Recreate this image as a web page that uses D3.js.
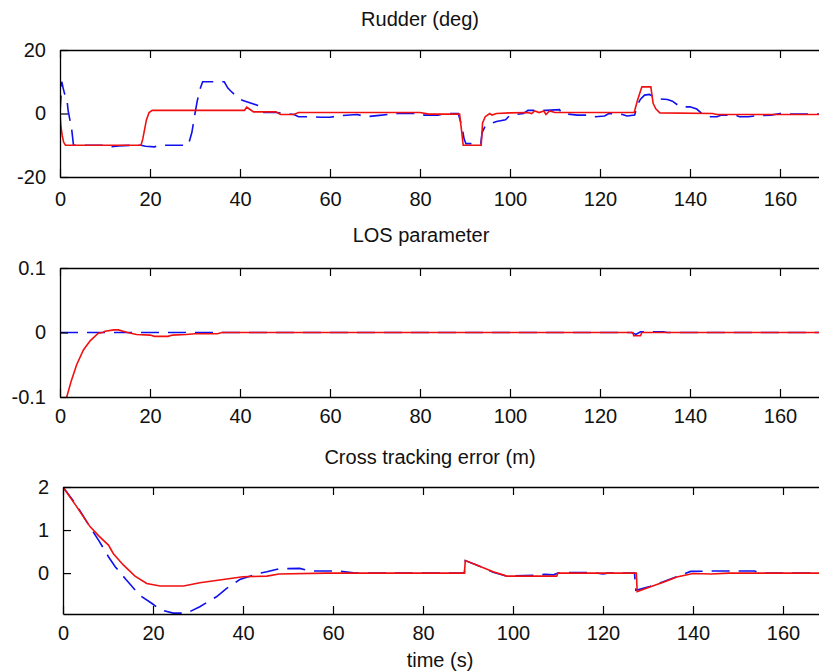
<!DOCTYPE html>
<html>
<head>
<meta charset="utf-8">
<script src="https://cdn.jsdelivr.net/npm/d3@7"></script>
<style>
  html, body { margin: 0; padding: 0; background: #fff; overflow: hidden; }
  svg { display: block; }
  text { font-family: "Liberation Sans", Arial, Helvetica, sans-serif; fill: #111; }
</style>
</head>
<body>
<svg id="chart" width="819" height="672"></svg>
<script>
// time axis (180 falls outside the visible window)
const xTicks = [0, 20, 40, 60, 80, 100, 120, 140, 160];

// Rudder (deg): [t, value]
const rudderBlue = [[0,0],[0.2,5],[0.4,10],[0.7,8],[1.0,6.3],[1.5,5],[1.8,1],[2.2,-2],[2.6,-5],[3.0,-10],[10,-10],[11,-10.5],[13,-10.2],[16,-10],[18,-10],[19,-10.3],[21,-10.5],[22,-10],[26,-10],[28.5,-10],[29.3,-6],[30,0],[30.5,4],[31.2,8],[31.7,10],[36.5,10],[37.3,8],[38,7],[39.5,5],[40.5,4.2],[42,3.5],[43,3],[44,2.5],[45,2],[45.3,0.3],[48,0.3],[52,-0.3],[53,-1],[56,-1],[58,-1.2],[60,-1.2],[62,-0.7],[66,-0.3],[68,-1],[71,-0.6],[73,-0.3],[75,0],[80,0],[81,-0.5],[84,-0.5],[86,0],[88.5,0],[89.3,-4],[89.8,-8],[90.2,-9.5],[93.5,-9.5],[93.8,-6],[94.5,-4],[95.5,-3.3],[97,-2.5],[99,-2],[100,-0.5],[103,0],[104,1],[108,1],[111,1.2],[111.5,0],[115,-0.5],[118,-0.5],[119,-1],[121,-0.8],[122,0],[125,-0.3],[126,-0.8],[127.7,-0.5],[128.4,3],[129,4.5],[129.9,5.8],[131,6],[132,5.2],[133,4.6],[135,4.4],[136.1,3.9],[137.8,2.1],[140,2.1],[141.5,1.4],[143,-0.5],[144.5,-1],[146,-1],[147,-0.5],[150,-0.5],[151,-1],[153,-1],[155,-0.7],[158,-0.5],[160,0],[162,-0.2],[180,-0.2]];
const rudderRed = [[0,0],[0.2,-4],[0.5,-7],[0.8,-9],[1.2,-10],[18,-10],[18.4,-8],[18.8,-5],[19.2,-2],[19.8,0.3],[20.5,1],[41,1],[41.5,2],[42,1.5],[43,0.5],[48,0.5],[49,-0.3],[52,-0.3],[53,0.3],[80,0.3],[82,-0.2],[88.8,-0.2],[89.2,-5],[89.6,-10],[93.6,-10],[93.9,-3],[94.5,-1],[95.5,0],[96,-0.5],[97,0],[100,0.2],[104,0.3],[104.8,0],[105.5,0.8],[106.5,0.3],[107.5,0.8],[108,-0.3],[108.8,0.8],[110,0.3],[127.6,0.3],[128.3,4],[129.3,8.4],[131.3,8.4],[131.8,3.2],[132.4,1.5],[133.3,0.2],[145,0],[146,-0.3],[180,-0.3]];
const rudderTicks = [-20, 0, 20];

// LOS parameter
const losBlue = [[0,0],[127,0],[128,-0.003],[129,0.001],[134,0.001],[135,0],[180,0]];
const losRed = [[0,-0.16],[1.5,-0.1],[2.5,-0.075],[3.7,-0.05],[5.2,-0.027],[6.7,-0.013],[8.5,-0.001],[9.5,0],[10,0.002],[12,0.004],[13,0.004],[14,0.002],[15,0],[17,-0.003],[20,-0.004],[21,-0.006],[24,-0.006],[25,-0.004],[28,-0.003],[30,-0.002],[35,-0.002],[36,0],[127.3,0],[127.5,-0.005],[129,-0.005],[129.3,0],[180,0]];
const losTicks = [-0.1, 0, 0.1];

// Cross tracking error (m)
const cteBlue = [[0,2],[3,1.58],[6,1.07],[8,0.75],[10.1,0.38],[11.6,0.15],[14,-0.15],[17.1,-0.52],[19.7,-0.7],[21.6,-0.85],[24.5,-0.93],[27.5,-0.93],[30.4,-0.78],[34.1,-0.55],[36.3,-0.36],[39.3,-0.15],[43,-0.02],[45.3,0.03],[48,0.1],[52.6,0.11],[55,0.05],[61,0.05],[65,0],[89.2,0],[89.4,0.29],[91.9,0.19],[95.6,0.02],[98.6,-0.07],[105,-0.05],[107,-0.03],[109,-0.04],[110,0],[112,0.01],[118,0.01],[120,-0.02],[121,0],[127,0],[127.3,-0.4],[130.4,-0.31],[133.4,-0.2],[136.4,-0.08],[139.5,0.04],[146,0.05],[153.7,0.05],[155,0],[180,0]];
const cteRed = [[0,2],[3,1.55],[6,1.08],[8,0.86],[10.1,0.65],[11.2,0.45],[13.4,0.19],[16,-0.07],[18.6,-0.24],[21.6,-0.3],[26.8,-0.3],[30.4,-0.225],[35.6,-0.15],[40,-0.085],[45.3,-0.07],[48,-0.02],[58.6,0],[89.2,0],[89.4,0.29],[91.9,0.19],[95.6,0.03],[98.6,-0.07],[109.7,-0.07],[110,0],[127.4,0],[127.6,-0.43],[130.4,-0.32],[133.4,-0.21],[136.4,-0.09],[140,-0.01],[144,-0.02],[148,0],[180,0]];
const cteTicks = [0, 1, 2];

// plain hyphen for negatives, like the original figure
const fmtNum = d => String(d);

const panels = [
  { title: "Rudder (deg)", titleX: 420, titleY: 26, left: 60, top: 50, bottom: 177, pad: 15, yDomain: [-20, 20], yTicks: rudderTicks, blue: rudderBlue, red: rudderRed },
  { title: "LOS parameter", titleX: 421, titleY: 242, left: 60, top: 268, bottom: 397, pad: 12, yDomain: [-0.1, 0.1], yTicks: losTicks, blue: losBlue, red: losRed },
  { title: "Cross tracking error (m)", titleX: 430, titleY: 464, left: 63, top: 487, bottom: 614, pad: 12, yDomain: [-0.95, 2], yTicks: cteTicks, blue: cteBlue, red: cteRed }
];

const svg = d3.select("#chart");
const tickLen = 8;

panels.forEach((p, i) => {
  const x = d3.scaleLinear().domain([0, 180]).range([p.left, p.left + 810]);
  const y = d3.scaleLinear().domain(p.yDomain).range([p.bottom, p.top]);
  const g = svg.append("g");

  const clipId = `clip-${i}`;
  svg.append("defs").append("clipPath").attr("id", clipId)
    .append("rect")
    .attr("x", x(0)).attr("y", p.top)
    .attr("width", x(180) - x(0)).attr("height", p.bottom - p.top);

  const line = d3.line().x(d => x(d[0])).y(d => y(d[1]));

  const lines = g.append("g").attr("clip-path", `url(#${clipId})`);
  lines.append("path")
    .datum(p.blue)
    .attr("fill", "none")
    .attr("stroke", "#1010ee")
    .attr("stroke-width", 1.6)
    .attr("stroke-dasharray", "18,9")
    .attr("d", line);
  lines.append("path")
    .datum(p.red)
    .attr("fill", "none")
    .attr("stroke", "#f01010")
    .attr("stroke-width", 1.6)
    .attr("d", line);

  // bottom axis with inward ticks
  g.append("g")
    .attr("transform", `translate(0,${p.bottom})`)
    .call(d3.axisBottom(x).tickValues(xTicks).tickSize(-tickLen).tickPadding(p.pad).tickFormat(fmtNum).tickSizeOuter(0))
    .call(s => s.select(".domain").attr("stroke", "#000").attr("stroke-width", 1.3))
    .call(s => s.selectAll(".tick line").attr("stroke", "#000").attr("stroke-width", 1.2))
    .call(s => s.selectAll(".tick text").attr("font-size", 20).attr("fill", "#111").attr("font-family", null));

  // top axis, ticks only
  g.append("g")
    .attr("transform", `translate(0,${p.top})`)
    .call(d3.axisTop(x).tickValues(xTicks).tickSize(-tickLen).tickFormat("").tickSizeOuter(0))
    .call(s => s.select(".domain").attr("stroke", "#000").attr("stroke-width", 1.3))
    .call(s => s.selectAll(".tick line").attr("stroke", "#000").attr("stroke-width", 1.2));

  // left axis
  g.append("g")
    .attr("transform", `translate(${p.left},0)`)
    .call(d3.axisLeft(y).tickValues(p.yTicks).tickSize(-tickLen).tickPadding(14).tickFormat(fmtNum).tickSizeOuter(0))
    .call(s => s.select(".domain").attr("stroke", "#000").attr("stroke-width", 1.3))
    .call(s => s.selectAll(".tick line").attr("stroke", "#000").attr("stroke-width", 1.2))
    .call(s => s.selectAll(".tick text").attr("font-size", 20).attr("fill", "#111").attr("font-family", null));

  svg.append("text")
    .attr("x", p.titleX).attr("y", p.titleY)
    .attr("text-anchor", "middle")
    .attr("font-size", 20)
    .text(p.title);
});

svg.append("text")
  .attr("x", 440).attr("y", 667)
  .attr("text-anchor", "middle")
  .attr("font-size", 20)
  .text("time (s)");
</script>
</body>
</html>
